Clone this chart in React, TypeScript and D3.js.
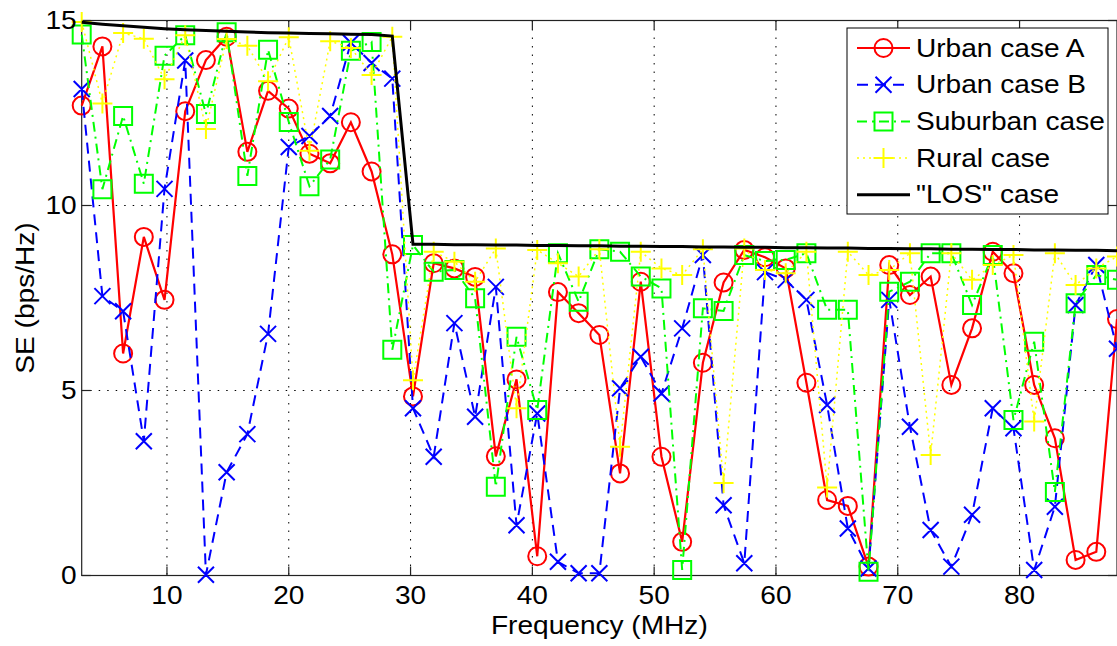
import React from 'react';
import * as d3 from 'd3';

// frequency grid (MHz)
const freqs = [
	3, 4.7, 6.4, 8.1, 9.8, 11.5, 13.2, 14.9, 16.6, 18.3, 20, 21.7, 23.4, 25.1, 26.8, 28.5, 30.2,
	31.9, 33.6, 35.3, 37, 38.7, 40.4, 42.1, 43.8, 45.5, 47.2, 48.9, 50.6, 52.3, 54, 55.7, 57.4,
	59.1, 60.8, 62.5, 64.2, 65.9, 67.6, 69.3, 71, 72.7, 74.4, 76.1, 77.8, 79.5, 81.2, 82.9,
	84.6, 86.3, 88,
];

const urbanA = [
	12.7, 14.3, 6.0, 9.15, 7.45, 12.55, 13.93, 14.56, 11.45, 13.1, 12.62, 11.4, 11.14, 12.25,
	10.92, 8.68, 4.84, 8.44, 8.3, 8.07, 3.22, 5.3, 0.52, 7.66, 7.09, 6.5, 2.76, 7.94, 3.21, 0.91,
	5.75, 7.92, 8.8, 8.6, 8.3, 5.21, 2.04, 1.88, 0.24, 8.39, 7.58, 8.08, 5.15, 6.68, 8.75, 8.17,
	5.15, 3.71, 0.42, 0.64, 6.93,
];

const urbanB = [
	13.15, 7.55, 7.14, 3.63, 10.45, 13.92, 0.02, 2.79, 3.82, 6.53, 11.58, 11.88, 12.42, 14.4,
	13.85, 13.43, 4.52, 3.21, 6.82, 4.29, 7.8, 1.36, 4.38, 0.37, 0.06, 0.06, 5.06, 5.91, 4.92,
	6.68, 8.66, 1.9, 0.33, 8.2, 7.99, 7.45, 4.61, 1.27, 0.19, 7.45, 4.02, 1.23, 0.24, 1.64, 4.52,
	3.98, 0.15, 1.86, 7.31, 8.39, 6.13,
];

const suburban = [
	14.62, 10.44, 12.42, 10.59, 14.05, 14.6, 12.47, 14.68, 10.8, 14.21, 12.26, 10.52, 11.24,
	14.18, 14.42, 6.1, 8.93, 8.21, 8.26, 7.49, 2.4, 6.45, 4.47, 8.71, 7.4, 8.82, 8.75, 8.08, 7.76,
	0.15, 7.22, 7.15, 8.66, 8.5, 8.53, 8.71, 7.18, 7.18, 0.1, 7.67, 7.94, 8.71, 8.71, 7.31, 8.66,
	4.2, 6.32, 2.26, 7.36, 8.12, 7.99,
];

const rural = [
	14.96, 12.76, 14.66, 14.51, 13.41, 14.6, 12.07, 14.5, 14.32, 13.36, 14.55, 11.48, 14.44,
	14.26, 13.53, 14.56, 5.28, 8.75, 8.48, 7.94, 8.84, 4.52, 8.8, 8.44, 8.08, 8.82, 3.48, 8.75,
	8.3, 8.12, 8.82, 2.5, 8.84, 8.26, 8.17, 8.75, 2.38, 8.75, 8.12, 8.26, 8.71, 3.26, 8.71, 7.99,
	8.39, 8.66, 4.16, 8.71, 7.85, 8.3, 8.62,
];

const los = [
	14.95, 14.9, 14.86, 14.82, 14.78, 14.75, 14.73, 14.71, 14.69, 14.67, 14.66, 14.65, 14.64,
	14.63, 14.62, 14.58, 8.95, 8.95, 8.94, 8.94, 8.93, 8.93, 8.92, 8.92, 8.91, 8.91, 8.9, 8.9,
	8.89, 8.89, 8.88, 8.88, 8.87, 8.87, 8.86, 8.86, 8.85, 8.85, 8.84, 8.84, 8.83, 8.83, 8.82,
	8.82, 8.81, 8.81, 8.8, 8.8, 8.79, 8.79, 8.78,
];

const xTicks = [10, 20, 30, 40, 50, 60, 70, 80];
const yTicks = [0, 5, 10, 15];

const series = [
	{ name: 'Urban case A', values: urbanA, color: '#ff0000', dash: null, width: 2.2, marker: 'o' },
	{ name: 'Urban case B', values: urbanB, color: '#0000ff', dash: '11,7', width: 2, marker: 'x' },
	{ name: 'Suburban case', values: suburban, color: '#00ff00', dash: '10,5,2,5', width: 2, marker: 's' },
	{ name: 'Rural case', values: rural, color: '#ffff00', dash: '2,4', width: 1.5, marker: '+' },
	{ name: '"LOS" case', values: los, color: '#000000', dash: null, width: 3, marker: null },
];

const W = 1117;
const H = 646;
const left = 81.7;
const right = 1117;
const top = 20.5;
const bottom = 575.5;
const font = '"Liberation Sans", Arial, sans-serif';
const fs = 26;
const stretch = 1.08; // glyphs in the picture are a bit wider than Arial

function markerPath(m, cx, cy) {
	if (m === 'o') {
		const r = 9;
		return `M${cx - r},${cy}a${r},${r} 0 1,0 ${2 * r},0a${r},${r} 0 1,0 ${-2 * r},0`;
	}
	if (m === 'x') {
		const r = 8;
		return `M${cx - r},${cy - r}L${cx + r},${cy + r}M${cx - r},${cy + r}L${cx + r},${cy - r}`;
	}
	if (m === 's') {
		const r = 9;
		return `M${cx - r},${cy - r}h${2 * r}v${2 * r}h${-2 * r}Z`;
	}
	if (m === '+') {
		const r = 10;
		return `M${cx - r},${cy}H${cx + r}M${cx},${cy - r}V${cy + r}`;
	}
	return '';
}

function Label({ x, y, anchor = 'start', baseline = 'auto', rotate = 0, children }) {
	return (
		<g transform={`translate(${x},${y}) rotate(${rotate}) scale(${stretch},1)`}>
			<text textAnchor={anchor} dominantBaseline={baseline} fontSize={fs} fill="#000">
				{children}
			</text>
		</g>
	);
}

export default function App() {
	const x = d3.scaleLinear().domain([3, 88]).range([left, right]);
	const y = d3.scaleLinear().domain([0, 15]).range([bottom, top]);
	const lineGen = d3
		.line<number>()
		.x((d, i) => x(freqs[i]))
		.y((d) => y(d));

	const legendX = 847;
	const legendY = 28;
	const legendW = 261;
	const legendH = 186;
	const rowY = (i) => legendY + 20 + i * 36.7;

	return (
		<svg
			width={W}
			height={H}
			style={{ position: 'absolute', left: 0, top: 0, background: '#fff' }}
			fontFamily={font}
		>
			<rect x={0} y={0} width={W} height={H} fill="#fff" />
			{/* grid */}
			<g stroke="#000" strokeWidth={1} strokeDasharray="1.5,7">
				{xTicks.map((t) => (
					<line key={'gx' + t} x1={x(t)} x2={x(t)} y1={top} y2={bottom} />
				))}
				{yTicks.slice(1, -1).map((t) => (
					<line key={'gy' + t} x1={left} x2={right} y1={y(t)} y2={y(t)} />
				))}
			</g>
			{/* frame and ticks */}
			<g stroke="#222" strokeWidth={1.2} fill="none">
				<rect x={left} y={top} width={right - left} height={bottom - top} />
				{xTicks.map((t) => (
					<g key={'tx' + t}>
						<line x1={x(t)} x2={x(t)} y1={bottom} y2={bottom - 9} />
						<line x1={x(t)} x2={x(t)} y1={top} y2={top + 9} />
					</g>
				))}
				{yTicks.map((t) => (
					<g key={'ty' + t}>
						<line x1={left} x2={left + 9} y1={y(t)} y2={y(t)} />
						<line x1={right} x2={right - 9} y1={y(t)} y2={y(t)} />
					</g>
				))}
			</g>
			{/* series */}
			{series.map((s) => (
				<g key={s.name}>
					<path
						d={lineGen(s.values) || ''}
						fill="none"
						stroke={s.color}
						strokeWidth={s.width}
						strokeDasharray={s.dash || undefined}
					/>
					{s.marker && (
						<path
							d={s.values.map((v, i) => markerPath(s.marker, x(freqs[i]), y(v))).join('')}
							fill="none"
							stroke={s.color}
							strokeWidth={2}
						/>
					)}
				</g>
			))}
			{/* tick labels */}
			{xTicks.map((t) => (
				<Label key={'lx' + t} x={x(t)} y={bottom + 28} anchor="middle">
					{t}
				</Label>
			))}
			{yTicks.map((t) => (
				<Label key={'ly' + t} x={left - 5} y={y(t)} anchor="end" baseline="central">
					{t}
				</Label>
			))}
			<Label x={(left + right) / 2} y={634} anchor="middle">
				Frequency (MHz)
			</Label>
			<Label x={34} y={(top + bottom) / 2} anchor="middle" rotate={-90}>
				SE (bps/Hz)
			</Label>
			{/* legend */}
			<rect x={legendX} y={legendY} width={legendW} height={legendH} fill="#fff" stroke="#000" strokeWidth={1} />
			{series.map((s, i) => (
				<g key={'lg' + s.name}>
					<line
						x1={857}
						x2={910}
						y1={rowY(i)}
						y2={rowY(i)}
						stroke={s.color}
						strokeWidth={s.width}
						strokeDasharray={s.dash || undefined}
					/>
					{s.marker && (
						<path d={markerPath(s.marker, 883.5, rowY(i))} fill="none" stroke={s.color} strokeWidth={2} />
					)}
					<Label x={916} y={rowY(i)} baseline="central">
						{s.name}
					</Label>
				</g>
			))}
		</svg>
	);
}
